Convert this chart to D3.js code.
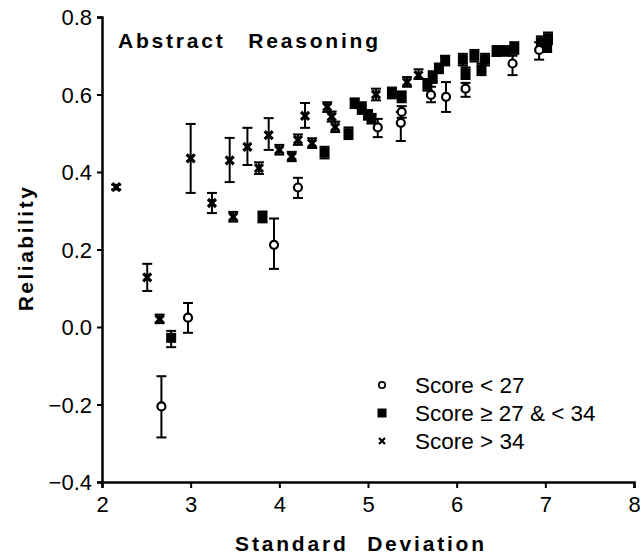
<!DOCTYPE html>
<html>
<head>
<meta charset="utf-8">
<script src="https://cdn.jsdelivr.net/npm/d3@7"></script>
<style>
  body { margin: 0; background: #fff; }
  svg { font-family: "Liberation Sans", Arial, sans-serif; }
</style>
</head>
<body>
<div id="chart-area"></div>
<script>
// Abstract Reasoning - reliability vs standard deviation

const MARGIN = { LEFT: 102, RIGHT: 9, TOP: 17, BOTTOM: 72 }
const WIDTH = 643 - MARGIN.LEFT - MARGIN.RIGHT
const HEIGHT = 554 - MARGIN.TOP - MARGIN.BOTTOM

// data: [sd, reliability, lower, upper]
const lowScore = [
  [2.67, -0.205, -0.285, -0.127],
  [2.97, 0.024, -0.015, 0.062],
  [3.94, 0.212, 0.15, 0.28],
  [4.21, 0.36, 0.333, 0.385],
  [5.11, 0.515, 0.49, 0.537],
  [5.37, 0.527, 0.48, 0.555],
  [5.38, 0.555, 0.54, 0.57],
  [5.71, 0.599, 0.58, 0.62],
  [5.88, 0.594, 0.555, 0.632],
  [6.1, 0.615, 0.594, 0.63],
  [6.63, 0.68, 0.65, 0.70],
  [6.93, 0.715, 0.69, 0.735]
]

const midScore = [
  [2.78, -0.028, -0.052, -0.01],
  [3.81, 0.284, 0.27, 0.298],
  [4.51, 0.45, 0.435, 0.465],
  [4.78, 0.50, 0.485, 0.515],
  [4.85, 0.578, 0.565, 0.59],
  [4.93, 0.565, 0.55, 0.58],
  [5.0, 0.547, 0.535, 0.56],
  [5.04, 0.537, 0.525, 0.55],
  [5.27, 0.604, 0.59, 0.618],
  [5.38, 0.594, 0.58, 0.608],
  [5.67, 0.625, 0.61, 0.64],
  [5.73, 0.645, 0.63, 0.66],
  [5.8, 0.668, 0.655, 0.68],
  [5.87, 0.688, 0.675, 0.70],
  [6.07, 0.69, 0.675, 0.705],
  [6.1, 0.655, 0.64, 0.67],
  [6.2, 0.70, 0.685, 0.715],
  [6.28, 0.665, 0.65, 0.68],
  [6.32, 0.69, 0.675, 0.705],
  [6.45, 0.71, 0.70, 0.725],
  [6.55, 0.712, 0.70, 0.725],
  [6.65, 0.72, 0.705, 0.735],
  [6.95, 0.735, 0.72, 0.75],
  [7.03, 0.745, 0.73, 0.76],
  [7.02, 0.72, 0.71, 0.735]
]

const highScore = [
  [2.16, 0.361, 0.355, 0.367],
  [2.51, 0.128, 0.093, 0.163],
  [2.65, 0.02, 0.01, 0.032],
  [3.0, 0.435, 0.346, 0.524],
  [3.24, 0.32, 0.294, 0.346],
  [3.44, 0.43, 0.374, 0.488],
  [3.48, 0.284, 0.272, 0.297],
  [3.64, 0.465, 0.418, 0.514],
  [3.77, 0.41, 0.395, 0.425],
  [3.88, 0.495, 0.457, 0.539],
  [4.0, 0.457, 0.445, 0.47],
  [4.14, 0.44, 0.428, 0.452],
  [4.21, 0.483, 0.47, 0.497],
  [4.29, 0.545, 0.514, 0.578],
  [4.37, 0.474, 0.462, 0.487],
  [4.54, 0.568, 0.555, 0.58],
  [4.59, 0.543, 0.53, 0.556],
  [4.63, 0.516, 0.503, 0.53],
  [5.09, 0.6, 0.585, 0.615],
  [5.44, 0.632, 0.62, 0.645],
  [5.57, 0.65, 0.64, 0.665]
]

const xTicks = [2, 3, 4, 5, 6, 7, 8]
const yTicks = [-0.4, -0.2, 0.0, 0.2, 0.4, 0.6, 0.8]
const legendLabels = ["Score < 27", "Score \u2265 27 & < 34", "Score > 34"]

const svg = d3.select("#chart-area").append("svg")
  .attr("width", 643)
  .attr("height", 554)

const g = svg.append("g")
  .attr("transform", `translate(${MARGIN.LEFT}, ${MARGIN.TOP})`)

// Scales
const x = d3.scaleLinear().domain([2, 8]).range([0, WIDTH])
const y = d3.scaleLinear().domain([-0.4, 0.8]).range([HEIGHT, 0])

// Axes
const xAxis = g.append("g")
  .attr("transform", `translate(0, ${HEIGHT})`)
  .call(d3.axisBottom(x).tickValues(xTicks).tickFormat(d3.format("d")).tickSizeOuter(0).tickSize(6).tickPadding(8))
const yAxis = g.append("g")
  .call(d3.axisLeft(y).tickValues(yTicks).tickFormat(d3.format(".1f")).tickSizeOuter(0).tickSize(5).tickPadding(5))

;[xAxis, yAxis].forEach(a => {
  a.select(".domain").attr("stroke-width", 2.5)
  a.selectAll(".tick line").attr("stroke-width", 2)
  a.selectAll(".tick text").attr("font-size", "22px").attr("fill", "#000")
})
yAxis.selectAll(".tick text").attr("dy", "0.35em")

// Labels
svg.append("text")
  .attr("x", 361)
  .attr("y", 551)
  .attr("text-anchor", "middle")
  .attr("font-size", "21px")
  .attr("font-weight", "bold")
  .attr("letter-spacing", "2.8px")
  .attr("word-spacing", "10px")
  .text("Standard Deviation")

svg.append("text")
  .attr("transform", "translate(33, 248) rotate(-90)")
  .attr("text-anchor", "middle")
  .attr("font-size", "21px")
  .attr("font-weight", "bold")
  .attr("letter-spacing", "2.5px")
  .text("Reliability")

svg.append("text")
  .attr("x", 118)
  .attr("y", 48)
  .attr("font-size", "21px")
  .attr("font-weight", "bold")
  .attr("letter-spacing", "2.8px")
  .attr("word-spacing", "14px")
  .text("Abstract Reasoning")

// error bars
function errorBars(data) {
  const eb = g.append("g").attr("stroke", "#000").attr("stroke-width", 2)
  data.forEach(d => {
    const cx = x(d[0])
    eb.append("line").attr("x1", cx).attr("x2", cx).attr("y1", y(d[2])).attr("y2", y(d[3]))
    eb.append("line").attr("x1", cx - 5).attr("x2", cx + 5).attr("y1", y(d[2])).attr("y2", y(d[2]))
    eb.append("line").attr("x1", cx - 5).attr("x2", cx + 5).attr("y1", y(d[3])).attr("y2", y(d[3]))
  })
}
errorBars(lowScore)
errorBars(midScore)
errorBars(highScore)

const crossPath = s => `M${-s},${-s}L${s},${s}M${-s},${s}L${s},${-s}`

g.selectAll(".mid").data(midScore).enter().append("rect")
  .attr("x", d => x(d[0]) - 5)
  .attr("y", d => y(d[1]) - 5)
  .attr("width", 10).attr("height", 10)
  .attr("fill", "#000")

g.selectAll(".high").data(highScore).enter().append("path")
  .attr("transform", d => `translate(${x(d[0])}, ${y(d[1])})`)
  .attr("d", crossPath(4))
  .attr("stroke", "#000").attr("stroke-width", 3.2)

g.selectAll(".low").data(lowScore).enter().append("circle")
  .attr("cx", d => x(d[0]))
  .attr("cy", d => y(d[1]))
  .attr("r", 4)
  .attr("fill", "#fff")
  .attr("stroke", "#000").attr("stroke-width", 2.2)

// Legend
const legend = svg.append("g").attr("transform", "translate(382, 385)")
legendLabels.forEach((label, i) => {
  const row = legend.append("g").attr("transform", `translate(0, ${i * 28})`)
  if (i === 0) {
    row.append("circle").attr("r", 3.2).attr("fill", "#fff").attr("stroke", "#000").attr("stroke-width", 1.8)
  } else if (i === 1) {
    row.append("rect").attr("x", -4.5).attr("y", -4.5).attr("width", 9).attr("height", 9).attr("fill", "#000")
  } else {
    row.append("path").attr("d", crossPath(3)).attr("stroke", "#000").attr("stroke-width", 2.2)
  }
  row.append("text")
    .attr("x", 33)
    .attr("y", 8)
    .attr("font-size", "22.5px")
    .text(label)
})
</script>
</body>
</html>
